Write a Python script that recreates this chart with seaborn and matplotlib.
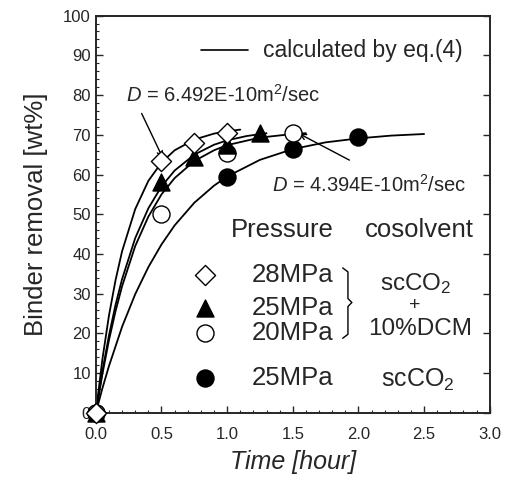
import numpy as np
import matplotlib
matplotlib.use('Agg')
import matplotlib.pyplot as plt
import seaborn as sns

# measured points (time [hour], binder removal [wt%])
t_28 = [0.0, 0.5, 0.75, 1.0]
y_28 = [0.0, 63.5, 68.0, 70.5]
t_25 = [0.0, 0.5, 0.75, 1.0, 1.25]
y_25 = [0.0, 58.0, 64.5, 67.5, 70.5]
t_20 = [0.0, 0.5, 1.0, 1.5]
y_20 = [0.0, 50.0, 65.5, 70.5]
t_co2 = [0.0, 1.0, 1.5, 2.0]
y_co2 = [0.0, 59.5, 66.5, 69.5]

# calculated curves
ct_28 = [0, 0.05, 0.1, 0.15, 0.2, 0.3, 0.4, 0.5, 0.6, 0.75, 0.9, 1.0, 1.1]
cy_28 = [0, 13.5, 24.5, 33.4, 40.7, 51.3, 58.4, 63.0, 66.1, 68.8, 70.3, 70.9, 71.3]
ct_25 = [0, 0.05, 0.1, 0.15, 0.2, 0.3, 0.4, 0.5, 0.6, 0.75, 0.9, 1.0, 1.15, 1.3]
cy_25 = [0, 10.5, 19.5, 27.2, 33.7, 44.0, 51.5, 57.0, 61.0, 65.0, 67.5, 68.6, 69.7, 70.4]
ct_20 = [0, 0.05, 0.1, 0.15, 0.2, 0.3, 0.4, 0.5, 0.6, 0.75, 0.9, 1.0, 1.25, 1.5, 1.6]
cy_20 = [0, 9.8, 18.3, 25.6, 31.9, 42.0, 49.4, 55.0, 59.1, 63.4, 66.1, 67.4, 69.3, 70.2, 70.4]
ct_co2 = [0, 0.05, 0.1, 0.2, 0.3, 0.4, 0.5, 0.6, 0.75, 0.9, 1.0, 1.25, 1.5, 1.75, 2.0, 2.25, 2.5]
cy_co2 = [0, 6.2, 11.8, 21.7, 29.9, 36.7, 42.4, 47.2, 52.9, 57.2, 59.5, 63.7, 66.4, 68.1, 69.1, 69.8, 70.2]

pressures = ['28MPa', '25MPa', '20MPa', '25MPa']
cosolvents = ['scCO$_2$', '+', '10%DCM', 'scCO$_2$']

sns.set_style('ticks')
plt.rcParams['font.family'] = ['Liberation Sans', 'DejaVu Sans']
plt.rcParams['mathtext.fontset'] = 'custom'
plt.rcParams['mathtext.rm'] = 'Liberation Sans'
plt.rcParams['mathtext.it'] = 'Liberation Sans:italic'

fig = plt.figure(figsize=(5.07, 4.87), dpi=100)
ax = fig.add_axes([0.189, 0.152, 0.777, 0.816])

for ct, cy in [(ct_28, cy_28), (ct_25, cy_25), (ct_20, cy_20), (ct_co2, cy_co2)]:
    sns.lineplot(x=ct, y=cy, ax=ax, color='black', lw=1.3, sort=False)

sty = dict(s=150, edgecolor='black', linewidth=1.0, clip_on=False, zorder=5)
sns.scatterplot(x=t_co2, y=y_co2, marker='o', color='black', ax=ax, **sty)
sns.scatterplot(x=t_20, y=y_20, marker='o', color='white', ax=ax, **sty)
sns.scatterplot(x=t_25, y=y_25, marker='^', color='black', ax=ax, **sty)
sns.scatterplot(x=t_28, y=y_28, marker='D', color='white', ax=ax,
                **dict(sty, s=105))

ax.set_xlim(0, 3.0)
ax.set_ylim(0, 100)
ax.set_xticks(np.arange(0, 3.01, 0.5))
ax.set_xticklabels([f'{v:.1f}' for v in np.arange(0, 3.01, 0.5)])
ax.set_xticks(np.arange(0, 3.01, 0.1), minor=True)
ax.set_yticks(np.arange(0, 101, 10))
ax.set_yticks(np.arange(0, 101, 2), minor=True)
ax.tick_params(direction='in', which='major', length=5, width=1, labelsize=12,
               right=True)
ax.tick_params(direction='in', which='minor', length=2.5, width=0.8)
ax.tick_params(axis='x', pad=10)
for sp in ax.spines.values():
    sp.set_linewidth(1.4)

ax.set_xlabel('Time [hour]', fontsize=18, style='italic', labelpad=6)
ax.set_ylabel('Binder removal [wt%]', fontsize=18.5, labelpad=11)

# legend line for calculated curve
ax.plot([0.8, 1.16], [91.4, 91.4], color='black', lw=1.2)
ax.text(1.27, 91.2, 'calculated by eq.(4)', fontsize=16.5, va='center')

ax.annotate('', xy=(0.52, 63.5), xytext=(0.34, 76.0),
            arrowprops=dict(arrowstyle='->', color='black', lw=1.0))
ax.text(0.23, 80, '$D$ = 6.492E-10m$^2$/sec', fontsize=14.5, va='center')
ax.annotate('', xy=(1.53, 70.6), xytext=(1.95, 63.3),
            arrowprops=dict(arrowstyle='->', color='black', lw=1.0))
ax.text(1.34, 57.4, '$D$ = 4.394E-10m$^2$/sec', fontsize=14.5, va='center')

ax.text(1.03, 46, 'Pressure', fontsize=18.5, va='center')
ax.text(2.05, 46, 'cosolvent', fontsize=18.5, va='center')

rows = [34.8, 26.5, 20.2, 8.8]
lx = 0.83
ax.scatter([lx], [rows[0]], marker='D', s=105, facecolor='white', edgecolor='black', lw=1.0)
ax.scatter([lx], [rows[1]], marker='^', s=150, facecolor='black', edgecolor='black', lw=1.0)
ax.scatter([lx], [rows[2]], marker='o', s=150, facecolor='white', edgecolor='black', lw=1.0)
ax.scatter([lx], [rows[3]], marker='o', s=150, facecolor='black', edgecolor='black', lw=1.0)
for r, p in zip(rows, pressures):
    ax.text(1.19, r, p, fontsize=18.5, va='center')

# brace grouping the first three rows
bx = [1.88, 1.92, 1.92, 1.95, 1.92, 1.92, 1.88]
by = [36.5, 35.5, 28.8, 27.8, 26.8, 19.8, 18.8]
ax.plot(bx, by, color='black', lw=1.0)

ax.text(2.44, 32.6, cosolvents[0], fontsize=17.5, ha='center', va='center')
ax.text(2.43, 27.0, cosolvents[1], fontsize=14, ha='center', va='center')
ax.text(2.47, 21.2, cosolvents[2], fontsize=17.5, ha='center', va='center')
ax.text(2.45, 8.4, cosolvents[3], fontsize=18, ha='center', va='center')

fig.savefig('out.png', dpi=100)
